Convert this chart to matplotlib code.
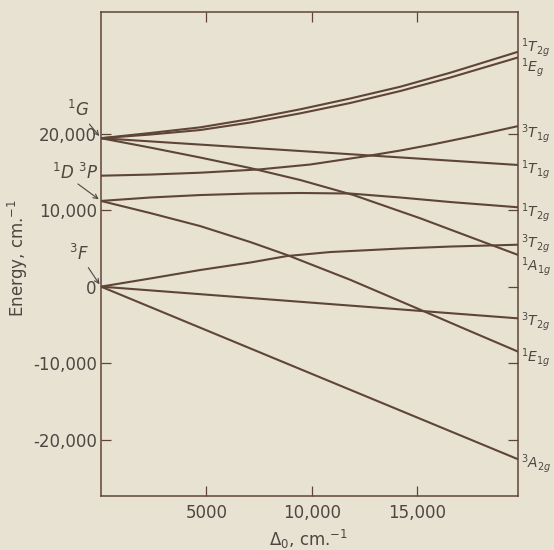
import matplotlib.pyplot as plt

# Δo (cm-1) and energy (cm-1)
g_x = [0, 2330, 4700, 7080, 9450, 11820, 14200, 16570, 19800]
t2g_1G_y = [19400, 20080, 20820, 21910, 23180, 24590, 26130, 27960, 30710]
eg_1G_y = [19400, 19880, 20470, 21450, 22650, 24000, 25570, 27330, 29970]

t1g_1G_x = [0, 19800]
t1g_1G_y = [19400, 15900]

a1g_x = [0, 2330, 4700, 7080, 9450, 11980, 15150, 17520, 19800]
a1g_y = [19400, 18180, 16880, 15500, 13940, 11970, 8930, 6480, 4130]

t1g_3P_x = [0, 2330, 4700, 7550, 9920, 12620, 14200, 15760, 17520, 19800]
t1g_3P_y = [14500, 14650, 14890, 15330, 15960, 17070, 17790, 18600, 19600, 20990]

t2g_1D_x = [0, 2330, 4700, 7080, 9450, 11820, 14200, 16570, 19800]
t2g_1D_y = [11200, 11650, 11970, 12170, 12240, 12170, 11650, 11060, 10370]

e1g_x = [0, 2330, 4700, 7080, 8830, 11820, 15150, 17520, 19800]
e1g_y = [11200, 9620, 7920, 5830, 4130, 900, -3020, -5830, -8510]

t2g_up_x = [0, 2330, 4700, 7080, 8830, 10870, 14200, 16570, 19800]
t2g_up_y = [0, 1060, 2170, 3150, 4000, 4520, 4980, 5240, 5480]

t2g_lo_x = [0, 19800]
t2g_lo_y = [0, -4150]

a2g_x = [0, 19800]
a2g_y = [0, -22580]

# term labels on the right edge: text and energy of label centre
right_labels = [r'$^{1}T_{2g}$', r'$^{1}E_{g}$', r'$^{3}T_{1g}$', r'$^{1}T_{1g}$',
                r'$^{1}T_{2g}$', r'$^{3}T_{2g}$', r'$^{1}A_{1g}$', r'$^{3}T_{2g}$',
                r'$^{1}E_{1g}$', r'$^{3}A_{2g}$']
right_label_y = [31300, 28600, 20050, 15250, 9700, 5570, 2560, -4590, -9330, -23100]

xticks = [5000, 10000, 15000]
xtick_labels = ['5000', '10,000', '15,000']
yticks = [-20000, -10000, 0, 10000, 20000]
ytick_labels = ['-20,000', '-10,000', '0', '10,000', '20,000']

bg = '#e8e2d3'
ink = '#5e4537'
txt = '#4f4642'

plt.rcParams['font.family'] = 'DejaVu Sans'

fig = plt.figure(figsize=(5.54, 5.5), dpi=100)
fig.patch.set_facecolor(bg)
ax = fig.add_axes([101/554, 54.3/550, 417.3/554, 483.4/550])
ax.set_facecolor(bg)

curves = [(g_x, t2g_1G_y), (g_x, eg_1G_y), (t1g_1G_x, t1g_1G_y), (a1g_x, a1g_y),
          (t1g_3P_x, t1g_3P_y), (t2g_1D_x, t2g_1D_y), (e1g_x, e1g_y),
          (t2g_up_x, t2g_up_y), (t2g_lo_x, t2g_lo_y), (a2g_x, a2g_y)]
for xs, ys in curves:
    ax.plot(xs, ys, color=ink, lw=1.5, solid_capstyle='round', solid_joinstyle='round')

ax.set_xlim(0, 19800)
ax.set_ylim(-27330, 35860)
ax.set_xticks(xticks, xtick_labels)
ax.set_yticks(yticks, ytick_labels)
ax.tick_params(direction='in', top=True, right=True, length=7, width=0.9,
               color=ink, labelcolor=txt, labelsize=12)
ax.tick_params(axis='x', pad=6)
ax.tick_params(axis='y', pad=3)
for s in ax.spines.values():
    s.set_color(ink)
    s.set_linewidth(1.1)

for lab, yv in zip(right_labels, right_label_y):
    ax.annotate(lab, xy=(1, yv), xycoords=('axes fraction', 'data'),
                xytext=(3, 0), textcoords='offset pixels',
                ha='left', va='center', fontsize=10, color=txt)

arrow = dict(arrowstyle='->', color=txt, lw=0.8, shrinkA=1, shrinkB=2, mutation_scale=8)
ax.annotate(r'$^{1}G$', xy=(0, 19400), xytext=(-23, 28), textcoords='offset pixels',
            ha='center', va='center', fontsize=12, color=txt,
            arrowprops=arrow, annotation_clip=False)
ax.annotate(r'$^{1}D$', xy=(0, 11200), xytext=(-38, 28), textcoords='offset pixels',
            ha='center', va='center', fontsize=12, color=txt,
            arrowprops=arrow, annotation_clip=False)
ax.annotate(r'$^{3}P$', xy=(0, 14500), xytext=(-13, 3), textcoords='offset pixels',
            ha='center', va='center', fontsize=12, color=txt, annotation_clip=False)
ax.annotate(r'$^{3}F$', xy=(0, 0), xytext=(-22, 33), textcoords='offset pixels',
            ha='center', va='center', fontsize=12, color=txt,
            arrowprops=arrow, annotation_clip=False)

fig.text(18/554, 1 - 258/550, r'Energy, cm.$^{-1}$', rotation=90,
         ha='center', va='center', fontsize=12, color=txt)
fig.text(308/554, 1 - 539/550, r'$\mathit{\Delta}_{0}$, cm.$^{-1}$',
         ha='center', va='center', fontsize=12, color=txt)

fig.savefig('out.png', dpi=100, facecolor=bg)
